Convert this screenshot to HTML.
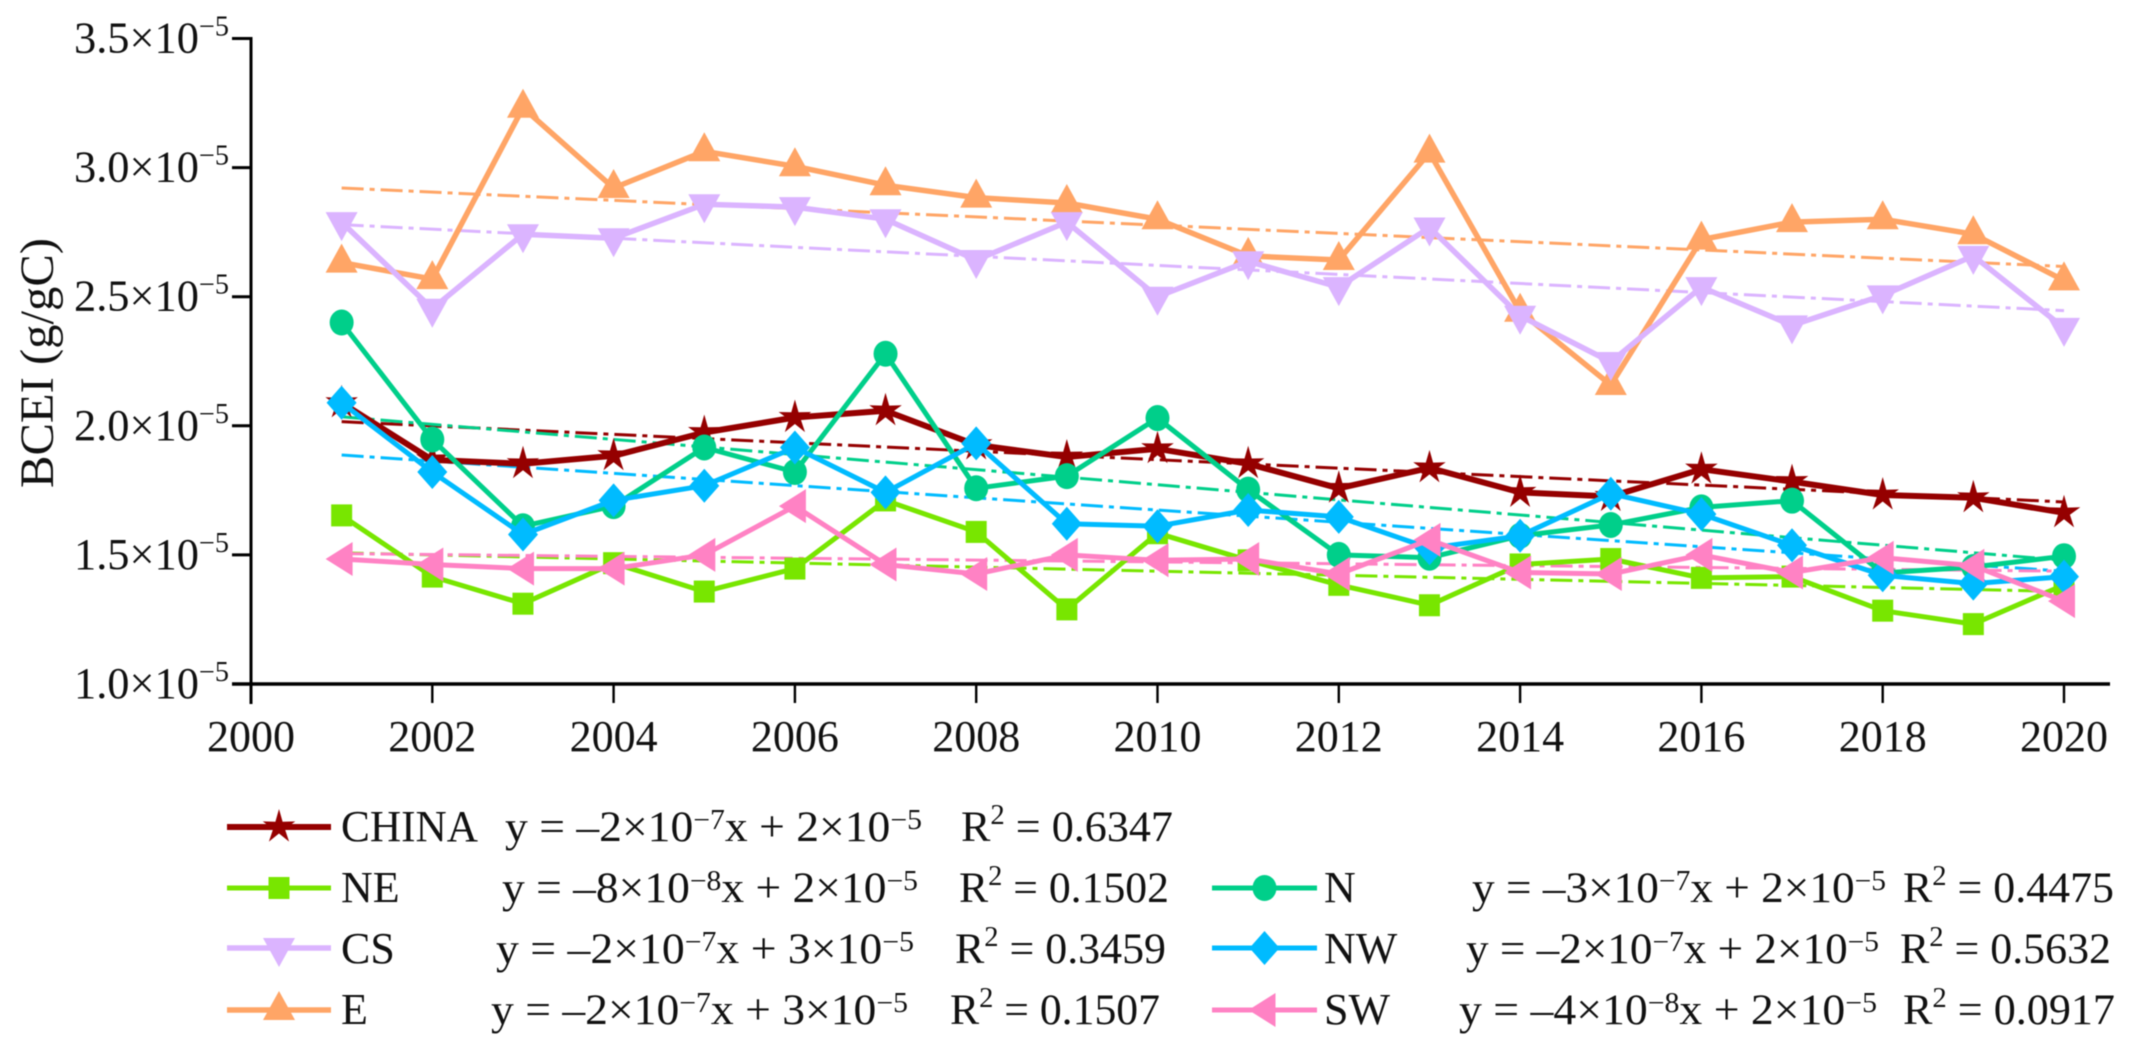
<!DOCTYPE html>
<html lang="en">
<head>
<meta charset="utf-8">
<title>BCEI trends 2001-2020</title>
<style>
html,body{margin:0;padding:0;background:#fff;width:2129px;height:1057px;overflow:hidden}
svg{display:block;filter:blur(0.5px)}
text{font-family:"Liberation Serif",serif;fill:#111}
</style>
</head>
<body>
<svg id="chart" xmlns="http://www.w3.org/2000/svg" width="2129" height="1057" viewBox="0 0 2129 1057">
  <rect x="0" y="0" width="2129" height="1057" fill="#fff"/>
  <g id="trends"></g>
  <g id="series"></g>
  <g id="axes"></g>
  <text transform="translate(53,488) rotate(-90)" font-size="48" textLength="250" lengthAdjust="spacingAndGlyphs">BCEI (g/gC)</text>

  <g>
    <g id="leg-CHINA">
      <text x="341" y="841" font-size="44" textLength="137" lengthAdjust="spacingAndGlyphs">CHINA</text>
      <text x="505" y="841" font-size="43" textLength="417" lengthAdjust="spacingAndGlyphs">y = –2×10<tspan dy="-12" font-size="28">−7</tspan><tspan dy="12">x + 2×10</tspan><tspan dy="-12" font-size="28">−5</tspan></text>
      <text x="961" y="841" font-size="43" textLength="212" lengthAdjust="spacingAndGlyphs">R<tspan dy="-17" font-size="28">2</tspan><tspan dy="17"> = 0.6347</tspan></text>
    </g>
    <g id="leg-NE">
      <text x="341" y="902" font-size="44">NE</text>
      <text x="502" y="902" font-size="43" textLength="416" lengthAdjust="spacingAndGlyphs">y = –8×10<tspan dy="-12" font-size="28">−8</tspan><tspan dy="12">x + 2×10</tspan><tspan dy="-12" font-size="28">−5</tspan></text>
      <text x="959" y="902" font-size="43" textLength="210" lengthAdjust="spacingAndGlyphs">R<tspan dy="-17" font-size="28">2</tspan><tspan dy="17"> = 0.1502</tspan></text>
    </g>
    <g id="leg-CS">
      <text x="341" y="963" font-size="44">CS</text>
      <text x="496" y="963" font-size="43" textLength="418" lengthAdjust="spacingAndGlyphs">y = –2×10<tspan dy="-12" font-size="28">−7</tspan><tspan dy="12">x + 3×10</tspan><tspan dy="-12" font-size="28">−5</tspan></text>
      <text x="955" y="963" font-size="43" textLength="211" lengthAdjust="spacingAndGlyphs">R<tspan dy="-17" font-size="28">2</tspan><tspan dy="17"> = 0.3459</tspan></text>
    </g>
    <g id="leg-E">
      <text x="341" y="1024" font-size="44">E</text>
      <text x="491" y="1024" font-size="43" textLength="417" lengthAdjust="spacingAndGlyphs">y = –2×10<tspan dy="-12" font-size="28">−7</tspan><tspan dy="12">x + 3×10</tspan><tspan dy="-12" font-size="28">−5</tspan></text>
      <text x="950" y="1024" font-size="43" textLength="210" lengthAdjust="spacingAndGlyphs">R<tspan dy="-17" font-size="28">2</tspan><tspan dy="17"> = 0.1507</tspan></text>
    </g>
    <g id="leg-N">
      <text x="1324" y="902" font-size="44">N</text>
      <text x="1472" y="902" font-size="43" textLength="414" lengthAdjust="spacingAndGlyphs">y = –3×10<tspan dy="-12" font-size="28">−7</tspan><tspan dy="12">x + 2×10</tspan><tspan dy="-12" font-size="28">−5</tspan></text>
      <text x="1903" y="902" font-size="43" textLength="211" lengthAdjust="spacingAndGlyphs">R<tspan dy="-17" font-size="28">2</tspan><tspan dy="17"> = 0.4475</tspan></text>
    </g>
    <g id="leg-NW">
      <text x="1324" y="963" font-size="44">NW</text>
      <text x="1466" y="963" font-size="43" textLength="413" lengthAdjust="spacingAndGlyphs">y = –2×10<tspan dy="-12" font-size="28">−7</tspan><tspan dy="12">x + 2×10</tspan><tspan dy="-12" font-size="28">−5</tspan></text>
      <text x="1900" y="963" font-size="43" textLength="211" lengthAdjust="spacingAndGlyphs">R<tspan dy="-17" font-size="28">2</tspan><tspan dy="17"> = 0.5632</tspan></text>
    </g>
    <g id="leg-SW">
      <text x="1324" y="1024" font-size="44">SW</text>
      <text x="1459" y="1024" font-size="43" textLength="418" lengthAdjust="spacingAndGlyphs">y = –4×10<tspan dy="-12" font-size="28">−8</tspan><tspan dy="12">x + 2×10</tspan><tspan dy="-12" font-size="28">−5</tspan></text>
      <text x="1903" y="1024" font-size="43" textLength="212" lengthAdjust="spacingAndGlyphs">R<tspan dy="-17" font-size="28">2</tspan><tspan dy="17"> = 0.0917</tspan></text>
    </g>
  </g>
</svg>

<script>
// ---- chart data (values in units of 1e-5 g/gC) ----
const years = [2001,2002,2003,2004,2005,2006,2007,2008,2009,2010,2011,2012,2013,2014,2015,2016,2017,2018,2019,2020];
const xTickLabels = [2000,2002,2004,2006,2008,2010,2012,2014,2016,2018,2020];
const yTickLabels = ["1.0","1.5","2.0","2.5","3.0","3.5"];
const chinaValues = [2.089,1.868,1.853,1.884,1.974,2.032,2.058,1.926,1.879,1.911,1.853,1.758,1.837,1.742,1.726,1.832,1.784,1.732,1.721,1.663];
const nValues = [2.400,1.947,1.611,1.689,1.916,1.821,2.279,1.758,1.805,2.030,1.753,1.500,1.489,1.574,1.616,1.684,1.710,1.430,1.453,1.495];
const neValues = [1.653,1.416,1.311,1.468,1.358,1.447,1.711,1.589,1.289,1.584,1.479,1.384,1.305,1.463,1.484,1.411,1.416,1.284,1.232,1.384];
const eValues = [2.632,2.568,3.232,2.921,3.063,3.005,2.932,2.884,2.863,2.800,2.658,2.642,3.058,2.442,2.158,2.721,2.789,2.800,2.742,2.563];
const csValues = [2.789,2.453,2.742,2.726,2.858,2.847,2.800,2.642,2.789,2.500,2.637,2.537,2.768,2.426,2.247,2.537,2.389,2.505,2.658,2.379];
const nwValues = [2.089,1.821,1.579,1.711,1.768,1.916,1.742,1.932,1.621,1.611,1.674,1.647,1.526,1.574,1.737,1.658,1.537,1.421,1.389,1.416];
const swValues = [1.484,1.463,1.447,1.447,1.500,1.689,1.463,1.426,1.500,1.479,1.484,1.426,1.558,1.432,1.426,1.500,1.432,1.489,1.458,1.321];
// trend line values at first and last year
const chinaTrend = [2.016,1.705];
const nTrend = [2.035,1.479];
const neTrend = [1.508,1.358];
const eTrend = [2.921,2.617];
const csTrend = [2.779,2.446];
const nwTrend = [1.887,1.437];
const swTrend = [1.505,1.437];

// ---- axis functions ----
const X0 = 251, X1 = 2064, Y0 = 684, Y1 = 38.5;
function xScale(yr){ return X0 + (yr - 2000) * (X1 - X0) / 20; }
function yScale(v){ return Y0 - (v - 1.0) * (Y0 - Y1) / 2.5; }

const NS = "http://www.w3.org/2000/svg";
function mk(tag, attrs, parent){
  const el = document.createElementNS(NS, tag);
  for (const k in attrs) el.setAttribute(k, attrs[k]);
  if (parent) parent.appendChild(el);
  return el;
}

function pts(arr){ return arr.map(p => p[0].toFixed(1) + "," + p[1].toFixed(1)).join(" "); }
function drawMarker(kind, cx, cy, color, parent){
  let el;
  if (kind === "square") {
    el = mk("rect", {x:cx-10.5, y:cy-11, width:21, height:22, fill:color}, parent);
  } else if (kind === "circle") {
    el = mk("ellipse", {cx:cx, cy:cy, rx:12, ry:13, fill:color}, parent);
  } else if (kind === "up") {
    el = mk("polygon", {points:pts([[cx,cy-19],[cx+16,cy+10],[cx-16,cy+10]]), fill:color}, parent);
  } else if (kind === "down") {
    el = mk("polygon", {points:pts([[cx,cy+19],[cx+16,cy-10],[cx-16,cy-10]]), fill:color}, parent);
  } else if (kind === "left") {
    el = mk("polygon", {points:pts([[cx-16,cy],[cx+11,cy-17],[cx+11,cy+17]]), fill:color}, parent);
  } else if (kind === "diamond") {
    el = mk("polygon", {points:pts([[cx,cy-17],[cx+15,cy],[cx,cy+17],[cx-15,cy]]), fill:color}, parent);
  } else {
    const p = [];
    for (let i = 0; i < 10; i++) {
      const r = i % 2 ? 6.5 : 18;
      const a = -Math.PI/2 + i * Math.PI/5;
      p.push([cx + r*Math.cos(a)*0.95, cy + r*Math.sin(a)]);
    }
    el = mk("polygon", {points:pts(p), fill:color}, parent);
  }
  return el;
}

const seriesList = [
  {key:"CHINA", values:chinaValues, trend:chinaTrend, color:"#950000", marker:"star",    width:6},
  {key:"N",     values:nValues,     trend:nTrend,     color:"#00cf8a", marker:"circle",  width:5},
  {key:"NE",    values:neValues,    trend:neTrend,    color:"#78e600", marker:"square",  width:5},
  {key:"E",     values:eValues,     trend:eTrend,     color:"#ffa566", marker:"up",      width:5.5},
  {key:"CS",    values:csValues,    trend:csTrend,    color:"#dbb4ff", marker:"down",    width:5.5},
  {key:"NW",    values:nwValues,    trend:nwTrend,    color:"#00bbff", marker:"diamond", width:5},
  {key:"SW",    values:swValues,    trend:swTrend,    color:"#ff82c4", marker:"left",    width:5}
];

const trendsG = document.getElementById("trends");
const seriesG = document.getElementById("series");
const axesG = document.getElementById("axes");

seriesList.forEach(function(s){
  const tl = mk("line", {
    x1:xScale(years[0]), y1:yScale(s.trend[0]),
    x2:xScale(years[years.length-1]), y2:yScale(s.trend[1]),
    stroke:s.color, "stroke-width":3, "stroke-dasharray":"22 6 5 6"
  }, trendsG);
  
  

  const g = mk("g", {}, seriesG);
  
  
  const line = mk("polyline", {
    points: pts(s.values.map((v,i) => [xScale(years[i]), yScale(v)])),
    fill:"none", stroke:s.color, "stroke-width":s.width, "stroke-linejoin":"round"
  }, g);
  
  
  s.values.forEach(function(v,i){
    const m = drawMarker(s.marker, xScale(years[i]), yScale(v), s.color, g);
    
    
  });

  // legend swatch
  const isRight = (s.key === "N" || s.key === "NW" || s.key === "SW");
  const rowY = {CHINA:827, NE:888, N:888, CS:948, NW:948, E:1010, SW:1010}[s.key];
  const x1 = isRight ? 1212 : 227, x2 = isRight ? 1317 : 331;
  const legG = document.getElementById("leg-" + s.key);
  const sw = mk("g", {}, legG);
  
  
  mk("line", {x1:x1, y1:rowY, x2:x2, y2:rowY, stroke:s.color, "stroke-width":s.width}, sw);
  drawMarker(s.marker, (x1+x2)/2, rowY, s.color, sw);
});

// axes
const yAxis = mk("line", {x1:X0, y1:Y1-1.5, x2:X0, y2:Y0+20, stroke:"#000", "stroke-width":3}, axesG);


const xAxis = mk("line", {x1:232, y1:Y0, x2:2110, y2:Y0, stroke:"#000", "stroke-width":3.4}, axesG);



xTickLabels.forEach(function(lab){
  const x = xScale(lab);
  const t = mk("line", {x1:x, y1:Y0, x2:x, y2:Y0+19, stroke:"#000", "stroke-width":2.4}, axesG);
  
  
  const tx = mk("text", {x:x, y:751, "font-size":44, "text-anchor":"middle"}, axesG);
  
  
  tx.textContent = lab;
});

yTickLabels.forEach(function(lab){
  const y = yScale(parseFloat(lab));
  const t = mk("line", {x1:232, y1:y, x2:X0, y2:y, stroke:"#000", "stroke-width":3}, axesG);
  
  
  const tx = mk("text", {x:74, y:y+14, "font-size":44, textLength:155, lengthAdjust:"spacingAndGlyphs"}, axesG);
  
  
  tx.appendChild(document.createTextNode(lab + "×10"));
  const sup = mk("tspan", {dy:-17, "font-size":28}, tx);
  sup.textContent = "−5";
});
</script>
</body>
</html>
